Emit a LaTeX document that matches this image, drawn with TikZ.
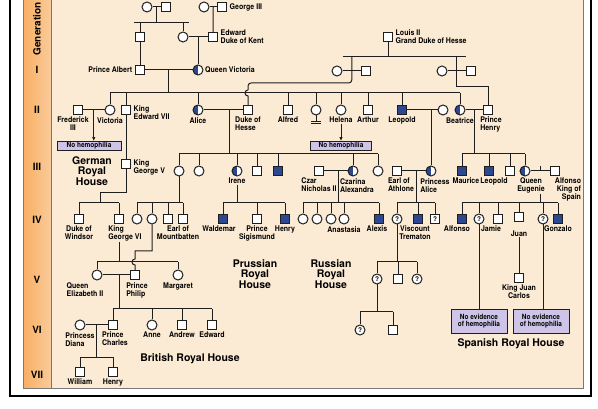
\documentclass[tikz,border=0pt]{standalone}
\usepackage{fontspec}
\setmainfont{TeX Gyre Heros}
\newfontfamily\lblfont[FakeStretch=0.9]{TeX Gyre Heros}
\usepackage{tikz}
\usetikzlibrary{positioning,calc,arrows.meta}
\definecolor{hemo}{RGB}{44,72,145}
\definecolor{peach}{RGB}{252,235,212}
\definecolor{strip}{RGB}{247,186,122}
\definecolor{lilac}{RGB}{205,196,232}
\definecolor{ink}{RGB}{30,30,30}
\tikzset{
  male/.style={rectangle, draw=ink, line width=1pt, fill=white, minimum size=9pt, inner sep=0pt},
  fem/.style={circle, draw=ink, line width=1pt, fill=white, minimum size=10pt, inner sep=0pt},
  aff/.style={male, fill=hemo},
  car/.style={fem, path picture={\fill[hemo] (path picture bounding box.south west) rectangle (path picture bounding box.north);}},
  unk/.style={font=\fontsize{6.5}{6.5}\selectfont\bfseries},
  lbl/.style={font=\lblfont\fontsize{7.8}{8}\selectfont\bfseries, align=center, inner sep=0.5pt},
  hse/.style={font=\fontsize{10.5}{10.5}\selectfont\bfseries, align=center, inner sep=0pt},
  nbox/.style={rectangle, draw=ink, line width=0.8pt, fill=lilac, align=center, inner sep=1pt,
               font=\lblfont\fontsize{7.2}{7.6}\selectfont\bfseries},
  gen/.style={font=\fontsize{10}{10}\selectfont\bfseries},
  ln/.style={draw=ink, line width=1pt},
  arr/.style={ln, -{Latex[length=1.4mm, width=1.2mm]}}
}
\begin{document}
\begin{tikzpicture}[x=1pt, y=-1pt]
  \useasboundingbox (0,0) rectangle (598,409);
  \fill[white] (0,0) rectangle (598,409);
  \draw[line width=2.6pt] (10,-5) -- (10,396) -- (591,396) -- (591,-5);
  \filldraw[fill=peach, draw=ink!60, line width=0.6pt] (23,-5) rectangle (583,388);
  \shade[left color=strip!80!orange, right color=strip!75!white] (23,-5) rectangle (51,388);
  \draw[ink!60, line width=0.6pt] (23,-5) rectangle (51,388);
  \node[gen, rotate=90] (genL) at (37,29) {Generation};
  \node[gen] (gI) at (37,70) {I};
  \node[gen] (gII) at (37,110) {II};
  \node[gen] (gIII) at (37,167) {III};
  \node[gen] (gIV) at (37,220) {IV};
  \node[gen] (gV) at (37,280) {V};
  \node[gen] (gVI) at (37,330) {VI};
  \node[gen] (gVII) at (37,375) {VII};

  \coordinate (s0) at (0,23);
  \coordinate (s1) at (0,57);
  \coordinate (s1b) at (0,83);
  \coordinate (s1c) at (0,87);
  \coordinate (s2) at (0,93);
  \coordinate (s3) at (0,154);
  \coordinate (s3b) at (100,193);
  \coordinate (s4) at (0,203);
  \coordinate (s5p) at (0,251);
  \coordinate (s5) at (0,262);
  \coordinate (s7) at (0,309);
  \coordinate (s6) at (0,312);
  \coordinate (s8) at (0,357);

  \node[fem] (gm1) at (147,7) {};
  \node[male] (gf1) at (166,7) {};
  \node[fem] (gm2) at (204,7) {};
  \node[male] (geo3) at (222,7) {};
  \node[lbl, right=2pt of geo3] (geo3L) {George III};
  \node[male] (albF) at (140,37) {};
  \node[fem] (vicM) at (183,37) {};
  \node[male] (kent) at (213,37) {};
  \node[lbl, right=2pt of kent, align=left] (kentL) {Edward\\Duke of Kent};
  \node[male] (louis) at (388,37) {};
  \node[lbl, right=2pt of louis, align=left] (louisL) {Louis II\\Grand Duke of Hesse};
  \node[fem] (hw1) at (337,71) {};
  \node[male] (hm1) at (366,71) {};
  \node[fem] (hw2) at (442,71) {};
  \node[male] (hm2) at (471,71) {};

  \node[male] (alb) at (140,70) {};
  \node[lbl, left=2pt of alb] (albL) {Prince Albert};
  \node[car] (vic) at (198,70) {};
  \node[lbl, right=1pt of vic] (vicL) {Queen Victoria};

  \node[male] (fred) at (78,110) {};
  \node[lbl, below=1pt of fred, xshift=-5pt] (fredL) {Frederick\\III};
  \node[fem] (vicP) at (110,110) {};
  \node[lbl, below=1pt of vicP] (vicPL) {Victoria};
  \node[male] (edw7) at (126,110) {};
  \node[lbl, anchor=north west, align=left] (edw7L) at ([xshift=2pt]edw7.north east) {King\\Edward VII};
  \node[car] (alice) at (198,110) {};
  \node[lbl, below=1pt of alice] (aliceL) {Alice};
  \node[male] (hesse) at (248,110) {};
  \node[lbl, below=1pt of hesse, align=left] (hesseL) {Duke of\\Hesse};
  \node[male] (alfred) at (288,110) {};
  \node[lbl, below=1pt of alfred] (alfredL) {Alfred};
  \node[fem] (louise) at (316,110) {};
  \node[fem] (helena) at (341,110) {};
  \node[lbl, below=1pt of helena] (helenaL) {Helena};
  \node[male] (arthur) at (368,110) {};
  \node[lbl, below=1pt of arthur] (arthurL) {Arthur};
  \node[aff] (leo) at (402,110) {};
  \node[lbl, below=1pt of leo] (leoL) {Leopold};
  \node[fem] (leoW) at (443,110) {};
  \node[car] (bea) at (460,110) {};
  \node[lbl, below=1pt of bea] (beaL) {Beatrice};
  \node[male] (henB) at (488,110) {};
  \node[lbl, below=1pt of henB, xshift=3pt, align=left] (henBL) {Prince\\Henry};
  \node[nbox, minimum width=64pt, minimum height=9pt] (noA) at (89,146) {No hemophilia};
  \node[nbox, minimum width=61pt, minimum height=9pt] (noB) at (341,146) {No hemophilia};

  \node[male] (geo5) at (126,164) {};
  \node[lbl, anchor=north west, align=left] (geo5L) at ([xshift=2pt]geo5.north east) {King\\George V};
  \node[hse] (germ) at (92,171) {German\\Royal\\House};
  \node[fem] (vicH) at (179,171) {};
  \node[fem] (ella) at (199,171) {};
  \node[car] (irene) at (237,171) {};
  \node[lbl, below=1pt of irene] (ireneL) {Irene};
  \node[male] (ernst) at (257,171) {};
  \node[aff] (fritz) at (278,171) {};
  \node[male] (nich) at (319,171) {};
  \node[lbl, below=1pt of nich, align=left] (nichL) {Czar\\Nicholas II};
  \node[car] (alix) at (353,171) {};
  \node[lbl, below=1pt of alix, align=left, xshift=4pt] (alixL) {Czarina\\Alexandra};
  \node[fem] (marie) at (378,171) {};
  \node[male] (athl) at (397,171) {};
  \node[lbl, below=1pt of athl, align=left, xshift=4pt] (athlL) {Earl of\\Athlone};
  \node[car] (palice) at (431,171) {};
  \node[lbl, below=1pt of palice, align=left, xshift=4pt] (paliceL) {Princess\\Alice};
  \node[aff] (maur) at (462,171) {};
  \node[lbl, below=1pt of maur, xshift=4pt] (maurL) {Maurice};
  \node[aff] (leoB) at (489,171) {};
  \node[lbl, below=1pt of leoB, xshift=5pt] (leoBL) {Leopold};
  \node[male] (beaS) at (510,171) {};
  \node[car] (eug) at (525,171) {};
  \node[lbl, below=1pt of eug, xshift=6pt] (eugL) {Queen\\Eugenie};
  \node[male] (alf13) at (555,171) {};
  \node[lbl, below=1pt of alf13, xshift=13pt, align=right] (alf13L) {Alfonso\\King of\\Spain};

  \node[male] (wind) at (79,219) {};
  \node[lbl, below=1pt of wind] (windL) {Duke of\\Windsor};
  \node[male] (geo6) at (119,219) {};
  \node[lbl, below=1pt of geo6, align=left, xshift=6pt] (geo6L) {King\\George VI};
  \node[fem] (bat1) at (137,219) {};
  \node[fem] (bat2) at (152,219) {};
  \node[male] (bat3) at (168,219) {};
  \node[male] (mount) at (183,219) {};
  \node[lbl, below=1pt of mount, xshift=-5pt] (mountL) {Earl of\\Mountbatten};
  \node[aff] (wald) at (223,219) {};
  \node[lbl, below=1pt of wald, xshift=-4pt] (waldL) {Waldemar};
  \node[male] (sigi) at (257,219) {};
  \node[lbl, below=1pt of sigi] (sigiL) {Prince\\Sigismund};
  \node[aff] (henP) at (285,219) {};
  \node[lbl, below=1pt of henP] (henPL) {Henry};
  \node[fem] (ro1) at (303,219) {};
  \node[fem] (ro2) at (317,219) {};
  \node[fem] (ro3) at (331,219) {};
  \node[fem] (ro4) at (344,219) {};
  \node[lbl, below=1pt of ro4] (ro4L) {Anastasia};
  \node[aff] (alex) at (379,219) {};
  \node[lbl, below=1pt of alex, xshift=-2pt] (alexL) {Alexis};
  \node[fem, unk] (may) at (397,219) {?};
  \node[aff] (trem) at (418,219) {};
  \node[lbl, below=1pt of trem, xshift=-3pt] (tremL) {Viscount\\Trematon};
  \node[male, unk] (rup) at (435,219) {?};
  \node[aff] (alfS) at (462,219) {};
  \node[lbl, below=1pt of alfS, xshift=-5pt] (alfSL) {Alfonso};
  \node[fem, unk] (qs1) at (479,219) {?};
  \node[male] (jaime) at (498,219) {};
  \node[lbl, below=1pt of jaime, xshift=-7pt] (jaimeL) {Jamie};
  \node[male] (juan) at (519,217) {};
  \node[lbl, below=8pt of juan] (juanL) {Juan};
  \node[fem, unk] (qs2) at (543,219) {?};
  \node[aff] (gonz) at (558,219) {};
  \node[lbl, below=1pt of gonz] (gonzL) {Gonzalo};

  \node[fem] (eliz) at (97,275) {};
  \node[lbl, below=2pt of eliz, align=left, xshift=-12pt] (elizL) {Queen\\Elizabeth II};
  \node[male] (phil) at (135,275) {};
  \node[lbl, below=2pt of phil, align=left, xshift=2pt] (philL) {Prince\\Philip};
  \node[fem] (marg) at (178,275) {};
  \node[lbl, below=2pt of marg] (margL) {Margaret};
  \node[hse] (prus) at (255,274) {Prussian\\Royal\\House};
  \node[hse] (russ) at (331,274) {Russian\\Royal\\House};
  \node[fem, unk] (q5a) at (377,279) {?};
  \node[male] (sq5) at (398,279) {};
  \node[fem, unk] (q5b) at (417,279) {?};
  \node[male] (jc) at (519,278) {};
  \node[lbl, below=1pt of jc] (jcL) {King Juan\\Carlos};

  \node[fem] (diana) at (80,325) {};
  \node[lbl, below=1pt of diana, align=left] (dianaL) {Princess\\Diana};
  \node[male] (charl) at (113,325) {};
  \node[lbl, below=1pt of charl, align=left, xshift=2pt] (charlL) {Prince\\Charles};
  \node[fem] (anne) at (152,325) {};
  \node[lbl, below=1pt of anne] (anneL) {Anne};
  \node[male] (andr) at (182,325) {};
  \node[lbl, below=1pt of andr] (andrL) {Andrew};
  \node[male] (edwE) at (212,325) {};
  \node[lbl, below=1pt of edwE] (edwEL) {Edward};
  \node[fem, unk] (q6) at (360,330) {?};
  \node[male] (sq6) at (393,330) {};
  \node[nbox, minimum width=56pt, minimum height=24pt] (noC) at (479,321) {No evidence\\of hemophilia};
  \node[nbox, minimum width=56pt, minimum height=24pt] (noD) at (541,321) {No evidence\\of hemophilia};
  \node[hse] (brit) at (190,359) {British Royal House};
  \node[hse] (span) at (511,344) {Spanish Royal House};

  \node[male] (will) at (80,372) {};
  \node[lbl, below=1pt of will] (willL) {William};
  \node[male] (harry) at (113,372) {};
  \node[lbl, below=1pt of harry] (harryL) {Henry};

  \draw[ln] (gm1) -- (gf1) coordinate[midway] (c0);
  \draw[ln] (gm2) -- (geo3) coordinate[midway] (c1);
  \draw[ln] (c0) -- (c0 |- s0);
  \draw[ln] ($(albF |- s0)+(-6,0)$) -- ($(vicM |- s0)+(6,0)$);
  \draw[ln] (albF) -- (albF |- s0);
  \draw[ln] (vicM) -- (vicM |- s0);
  \draw[ln] (c1) -- (kent);
  \draw[ln] (vicM) -- (kent);
  \draw[ln] (albF) -- (alb);
  \draw[ln] (vic) -- (vic |- kent);
  \draw[ln] (alb) -- (vic) coordinate[midway] (c2);

  \draw[ln] (louis) -- (louis |- s1);
  \draw[ln] (hw1.east |- s1) -- (hm2.west |- s1);
  \draw[ln] (hw1) -- (hm1) coordinate[midway] (c3);
  \draw[ln] (hw2) -- (hm2) coordinate[midway] (c4);
  \draw[ln, rounded corners=3pt] (c3 |- s1) -- (c3 |- s1b) -- (hesse |- s1b) -- ($(hesse |- s2)+(0,-3)$);
  \draw[ln] ($(hesse |- s2)+(0,-3)$) arc[start angle=90, end angle=270, radius=3pt] -- (hesse);
  \draw[ln] (c4 |- s1) -- (c4 |- s1c) -- (henB |- s1c) -- (henB);

  \draw[ln] (c2) -- (c2 |- s2);
  \draw[ln] (vicP |- s2) -- (bea |- s2);
  \draw[ln] (vicP) -- (vicP |- s2);
  \draw[ln] (edw7) -- (edw7 |- s2);
  \draw[ln] (alice) -- (alice |- s2);
  \draw[ln] (alfred) -- (alfred |- s2);
  \draw[ln] (louise) -- (louise |- s2);
  \draw[ln] (helena) -- (helena |- s2);
  \draw[ln] (arthur) -- (arthur |- s2);
  \draw[ln] (leo) -- (leo |- s2);
  \draw[ln] (bea) -- (bea |- s2);
  \draw[ln] (louise.south) -- ++(0,6) coordinate (lbar);
  \draw[ln] ($(lbar)+(-5,0)$) -- ($(lbar)+(5,0)$);
  \draw[ln] ($(lbar)+(-5,2)$) -- ($(lbar)+(5,2)$);

  \draw[ln] (fred) -- (vicP) coordinate[midway] (c5);
  \draw[arr] (c5) -- (c5 |- noA.north);
  \draw[arr] (helenaL) -- (helenaL |- noB.north);
  \draw[ln] (edw7) -- (geo5);
  \draw[ln] (alice) -- (hesse) coordinate[pos=0.65] (c6);
  \draw[ln] (leo) -- (leoW);
  \draw[ln] (bea) -- (henB) coordinate[midway] (c9);

  \draw[ln] (c6) -- (c6 |- s3);
  \draw[ln] (vicH |- s3) -- (marie |- s3);
  \draw[ln] (vicH) -- (vicH |- s3);
  \draw[ln] (ella) -- (ella |- s3);
  \draw[ln] (irene) -- (irene |- s3);
  \draw[ln] (ernst) -- (ernst |- s3);
  \draw[ln] (fritz) -- (fritz |- s3);
  \draw[ln] (alix) -- (alix |- s3);
  \draw[ln] (marie) -- (marie |- s3);
  \draw[ln] (palice) -- (palice |- leo);
  \draw[ln] (c9) -- (c9 |- s3);
  \draw[ln] (maur |- s3) -- (eug |- s3);
  \draw[ln] (maur) -- (maur |- s3);
  \draw[ln] (leoB) -- (leoB |- s3);
  \draw[ln] (beaS) -- (beaS |- s3);
  \draw[ln] (eug) -- (eug |- s3);

  \draw[ln] (geo5) |- (s3b) -- (s3b |- s4);
  \draw[ln] (wind |- s4) -- (geo6 |- s4);
  \draw[ln] (wind) -- (wind |- s4);
  \draw[ln] (geo6) -- (geo6 |- s4);
  \draw[ln] (vicH) -- (vicH |- s4);
  \draw[ln] (bat1 |- s4) -- (mount |- s4);
  \draw[ln] (bat1) -- (bat1 |- s4);
  \draw[ln] (bat2) -- (bat2 |- s4);
  \draw[ln] (bat3) -- (bat3 |- s4);
  \draw[ln] (mount) -- (mount |- s4);
  \draw[ln] (ireneL) -- (ireneL |- s4);
  \draw[ln] (wald |- s4) -- (henP |- s4);
  \draw[ln] (wald) -- (wald |- s4);
  \draw[ln] (sigi) -- (sigi |- s4);
  \draw[ln] (henP) -- (henP |- s4);
  \draw[ln] (nich) -- (alix) coordinate[pos=0.62] (c7);
  \draw[ln] (c7) -- (c7 |- s4);
  \draw[ln] (ro1 |- s4) -- (alex |- s4);
  \draw[ln] (ro1) -- (ro1 |- s4);
  \draw[ln] (ro2) -- (ro2 |- s4);
  \draw[ln] (ro3) -- (ro3 |- s4);
  \draw[ln] (ro4) -- (ro4 |- s4);
  \draw[ln] (alex) -- (alex |- s4);
  \draw[ln] (athl) -- (palice) coordinate[pos=0.62] (c8);
  \draw[ln] (c8) -- (c8 |- s4);
  \draw[ln] (may |- s4) -- (rup |- s4);
  \draw[ln] (may) -- (may |- s4);
  \draw[ln] (trem) -- (trem |- s4);
  \draw[ln] (rup) -- (rup |- s4);
  \draw[ln] (eug) -- (alf13) coordinate[midway] (c10);
  \draw[ln] (c10) -- ++(0,-5);
  \draw[ln] (c10 |- eugL.south) -- (c10 |- s4);
  \draw[ln] (alfS |- s4) -- (gonz |- s4);
  \draw[ln] (alfS) -- (alfS |- s4);
  \draw[ln] (qs1) -- (qs1 |- s4);
  \draw[ln] (jaime) -- (jaime |- s4);
  \draw[ln] (juan) -- (juan |- s4);
  \draw[ln] (qs2) -- (qs2 |- s4);
  \draw[ln] (gonz) -- (gonz |- s4);
  \draw[ln] (qs1) -- (qs1 |- noC.north);
  \draw[ln] (qs2) -- (qs2 |- noD.north);
  \draw[ln] (juan |- juanL.south) -- (jc);

  \draw[ln] (geo6 |- geo6L.south) -- (geo6 |- s5);
  \draw[ln] (eliz |- s5) -- (marg |- s5);
  \draw[ln] (eliz) -- (eliz |- s5);
  \draw[ln] (marg) -- (marg |- s5);
  \draw[ln] (bat2) -- (bat2 |- s5p) -- (phil |- s5p) -- ($(phil |- s5)+(0,-3)$) arc[start angle=90, end angle=270, radius=3pt] -- (phil);
  \draw[ln] (may) -- (may |- s5);
  \draw[ln] (q5a |- s5) -- (q5b |- s5);
  \draw[ln] (q5a) -- (q5a |- s5);
  \draw[ln] (sq5) -- (sq5 |- s5);
  \draw[ln] (q5b) -- (q5b |- s5);
  \draw[ln] (q5a) -- (q5a |- s6);
  \draw[ln] (q6 |- s6) -- (sq6 |- s6);
  \draw[ln] (q6) -- (q6 |- s6);
  \draw[ln] (sq6) -- (sq6 |- s6);

  \draw[ln] (eliz) -- (phil) coordinate[pos=0.6] (c11);
  \draw[ln] (c11) -- (c11 |- s7);
  \draw[ln] (charl |- s7) -- (edwE |- s7);
  \draw[ln] (charl) -- (charl |- s7);
  \draw[ln] (anne) -- (anne |- s7);
  \draw[ln] (andr) -- (andr |- s7);
  \draw[ln] (edwE) -- (edwE |- s7);
  \draw[ln] (diana) -- (charl) coordinate[midway] (c12);
  \draw[ln] (c12) -- (c12 |- s8);
  \draw[ln] (will |- s8) -- (harry |- s8);
  \draw[ln] (will) -- (will |- s8);
  \draw[ln] (harry) -- (harry |- s8);
\end{tikzpicture}
\end{document}
